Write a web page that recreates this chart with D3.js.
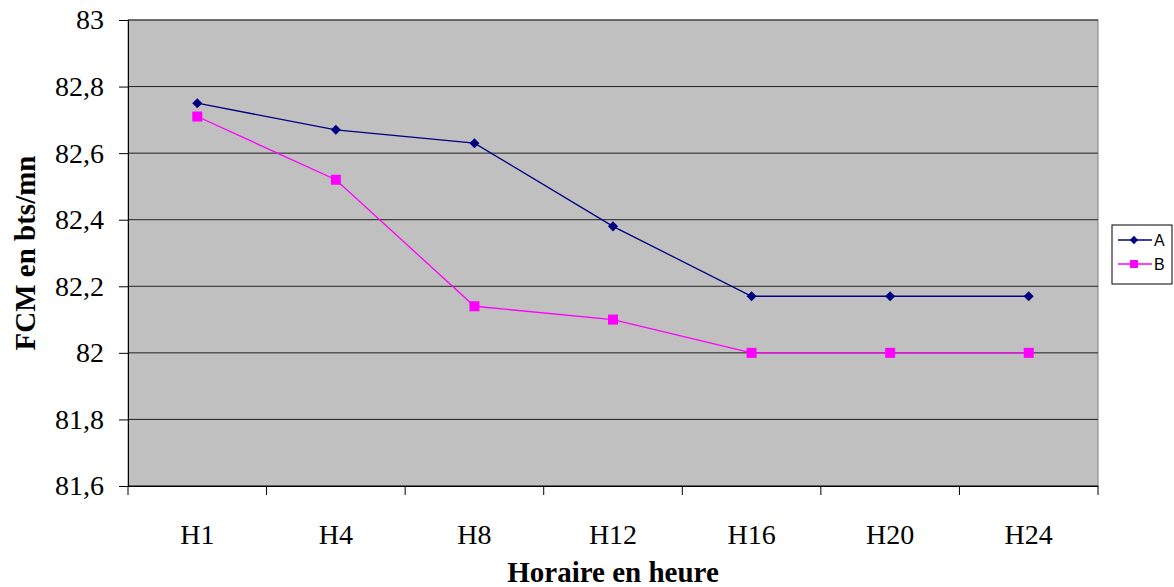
<!DOCTYPE html>
<html>
<head>
<meta charset="utf-8">
<script src="https://cdn.jsdelivr.net/npm/d3@7"></script>
<style>
  body { margin: 0; background: #fff; }
  svg { display: block; }
</style>
</head>
<body>
<div id="chart"></div>
<script>
// data
var categories = ["H1", "H4", "H8", "H12", "H16", "H20", "H24"];
var seriesA = [82.75, 82.67, 82.63, 82.38, 82.17, 82.17, 82.17];
var seriesB = [82.71, 82.52, 82.14, 82.10, 82.00, 82.00, 82.00];
var yTicks = [81.6, 81.8, 82, 82.2, 82.4, 82.6, 82.8, 83];

var width = 1174, height = 587;
var plot = {left: 128, top: 20, right: 1098, bottom: 486};
var serif = "'Liberation Serif', 'Times New Roman', serif";

var svg = d3.select("#chart")
  .append("svg")
  .attr("width", width)
  .attr("height", height);

var xScale = d3.scaleBand()
  .domain(categories)
  .range([plot.left, plot.right]);

var yScale = d3.scaleLinear()
  .domain([81.6, 83])
  .range([plot.bottom, plot.top]);

var fmt = function(d) { return String(+d.toFixed(1)).replace(".", ","); };

// plot background
svg.append("rect")
  .attr("x", plot.left)
  .attr("y", plot.top)
  .attr("width", plot.right - plot.left)
  .attr("height", plot.bottom - plot.top)
  .attr("fill", "#c0c0c0")
  .attr("stroke", "#808080");

// gridlines
svg.append("g")
  .selectAll("line")
  .data(yTicks)
  .enter()
  .append("line")
  .attr("x1", plot.left)
  .attr("x2", plot.right)
  .attr("y1", function(d) { return yScale(d); })
  .attr("y2", function(d) { return yScale(d); })
  .attr("stroke", "#222")
  .attr("stroke-width", 1);

// y axis
var yAxis = svg.append("g")
  .attr("transform", "translate(" + plot.left + ",0)")
  .call(d3.axisLeft(yScale).tickValues(yTicks).tickFormat(fmt).tickSize(9).tickPadding(15));
yAxis.attr("font-family", serif).attr("font-size", 28);
yAxis.select(".domain").attr("stroke", "#000");
yAxis.selectAll(".tick line").attr("stroke", "#000");
yAxis.selectAll("text").attr("fill", "#000");

// x axis, ticks between categories
var xAxis = svg.append("g")
  .attr("transform", "translate(0," + plot.bottom + ")")
  .call(d3.axisBottom(xScale).tickSize(0).tickPadding(38));
xAxis.attr("font-family", serif).attr("font-size", 28);
xAxis.select(".domain").attr("stroke", "#000");
xAxis.selectAll("text").attr("fill", "#000");
xAxis.selectAll(".sep")
  .data(d3.range(categories.length + 1))
  .enter()
  .append("line")
  .attr("class", "sep")
  .attr("x1", function(i) { return plot.left + i * xScale.step(); })
  .attr("x2", function(i) { return plot.left + i * xScale.step(); })
  .attr("y1", 0)
  .attr("y2", 9)
  .attr("stroke", "#000");

var cx = function(d, i) { return xScale(categories[i]) + xScale.bandwidth() / 2; };

var line = d3.line()
  .x(function(d, i) { return cx(d, i); })
  .y(function(d) { return yScale(d); });

// series A: navy diamonds
svg.append("path")
  .datum(seriesA)
  .attr("d", line)
  .attr("fill", "none")
  .attr("stroke", "#000080")
  .attr("stroke-width", 1.3);
svg.append("g")
  .selectAll("path")
  .data(seriesA)
  .enter()
  .append("path")
  .attr("d", d3.symbol().type(d3.symbolDiamond2).size(64))
  .attr("transform", function(d, i) { return "translate(" + cx(d, i) + "," + yScale(d) + ")"; })
  .attr("fill", "#000080");

// series B: magenta squares
svg.append("path")
  .datum(seriesB)
  .attr("d", line)
  .attr("fill", "none")
  .attr("stroke", "#ff00ff")
  .attr("stroke-width", 1.3);
svg.append("g")
  .selectAll("rect")
  .data(seriesB)
  .enter()
  .append("rect")
  .attr("x", function(d, i) { return cx(d, i) - 5; })
  .attr("y", function(d) { return yScale(d) - 5; })
  .attr("width", 10)
  .attr("height", 10)
  .attr("fill", "#ff00ff");

// axis titles
svg.append("text")
  .attr("x", (plot.left + plot.right) / 2)
  .attr("y", 582)
  .attr("text-anchor", "middle")
  .attr("font-family", serif)
  .attr("font-weight", "bold")
  .attr("font-size", 29)
  .text("Horaire en heure");

svg.append("text")
  .attr("transform", "translate(35," + ((plot.top + plot.bottom) / 2) + ")rotate(-90)")
  .attr("text-anchor", "middle")
  .attr("font-family", serif)
  .attr("font-weight", "bold")
  .attr("font-size", 29)
  .text("FCM en bts/mn");

// legend
var legend = svg.append("g").attr("transform", "translate(1112,225)");
legend.append("rect")
  .attr("width", 60)
  .attr("height", 59)
  .attr("fill", "#fff")
  .attr("stroke", "#000");
var items = [{name: "A", color: "#000080"}, {name: "B", color: "#ff00ff"}];
var li = legend.selectAll(".item")
  .data(items)
  .enter()
  .append("g")
  .attr("class", "item")
  .attr("transform", function(d, i) { return "translate(0," + (15 + i * 24) + ")"; });
li.append("line")
  .attr("x1", 6).attr("x2", 40)
  .attr("stroke", function(d) { return d.color; })
  .attr("stroke-width", 1.3);
li.filter(function(d) { return d.name === "A"; })
  .append("path")
  .attr("d", d3.symbol().type(d3.symbolDiamond2).size(44))
  .attr("transform", "translate(22,0)")
  .attr("fill", "#000080");
li.filter(function(d) { return d.name === "B"; })
  .append("rect")
  .attr("x", 18).attr("y", -4).attr("width", 8).attr("height", 8)
  .attr("fill", "#ff00ff");
li.append("text")
  .attr("x", 42)
  .attr("y", 6)
  .attr("font-family", "'Liberation Sans', Arial, sans-serif")
  .attr("font-size", 16)
  .text(function(d) { return d.name; });
</script>
</body>
</html>
